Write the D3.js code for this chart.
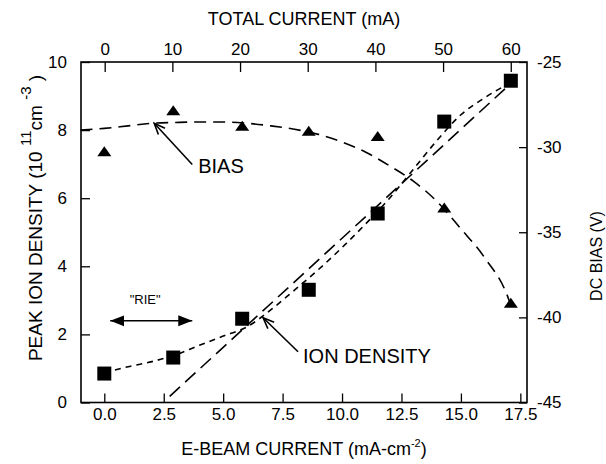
<!DOCTYPE html>
<html>
<head>
<meta charset="utf-8">
<script src="https://cdn.jsdelivr.net/npm/d3@7"></script>
<style>
  body { margin: 0; background: #fff; }
  text { font-family: "Liberation Sans", Arial, sans-serif; fill: #000; }
</style>
</head>
<body>
<div id="chart"></div>
<script>
/**
 * CONSTANTS AND GLOBALS
 * */
const width = 606,
  height = 464,
  margin = { top: 62, right: 79, bottom: 62, left: 81 };

/**
 * DATA
 * */
// e-beam current (mA-cm-2) for each measurement, total current 0..60 mA
const ebeam = [0, 2.9, 5.8, 8.6, 11.5, 14.3, 17.1];
const ionDensity = [0.85, 1.32, 2.46, 3.31, 5.55, 8.25, 9.45];
const dcBias = [-30.3, -27.9, -28.8, -29.1, -29.4, -33.6, -39.2];

// dashed fit through the bias points
const biasFitX = [-1, 0, 1, 2, 3, 4, 5, 6, 7, 8, 9, 10, 11, 12, 13, 14, 15, 16, 17, 17.1];
const biasFitY = [-29.0, -28.9, -28.75, -28.6, -28.55, -28.52, -28.52, -28.6, -28.75, -28.95,
  -29.25, -29.7, -30.3, -31.1, -32.0, -33.2, -34.8, -36.5, -38.9, -39.3];

// short-dashed fit through the ion density points
const ionFitX = [0, 1, 2, 3, 4, 5, 6, 7, 8, 9, 10, 11, 12, 13, 14, 15, 16, 17.1];
const ionFitY = [0.87, 1.05, 1.2, 1.4, 1.68, 1.95, 2.22, 2.72, 3.3, 3.9, 4.55, 5.25, 6.0,
  6.85, 7.7, 8.45, 8.95, 9.4];

// long-dashed straight line
const ionLineX = [2.75, 17.1];
const ionLineY = [0.18, 9.37];

// ticks
const bottomTicks = [0, 2.5, 5, 7.5, 10, 12.5, 15, 17.5];
const topTicks = [0, 10, 20, 30, 40, 50, 60];
const leftTicks = [0, 2, 4, 6, 8, 10];
const rightTicks = [-45, -40, -35, -30, -25];

/**
 * SCALES
 * */
const x = d3.scaleLinear().domain([-0.98, 17.78]).range([margin.left, width - margin.right]);
const xTop = d3.scaleLinear().domain([-3.5, 62.4]).range([margin.left, width - margin.right]);
const y = d3.scaleLinear().domain([0, 10]).range([height - margin.bottom + 0.5, margin.top]);
const yRight = d3.scaleLinear().domain([-45, -25]).range([height - margin.bottom + 0.5, margin.top]);

const svg = d3.select("#chart")
  .append("svg")
  .attr("width", width)
  .attr("height", height);

// markers for the annotation arrows
const defs = svg.append("defs");
defs.append("marker")
  .attr("id", "openhead")
  .attr("viewBox", "-12 -6 14 12")
  .attr("markerWidth", 14)
  .attr("markerHeight", 12)
  .attr("markerUnits", "userSpaceOnUse")
  .attr("orient", "auto")
  .append("path")
  .attr("d", "M-11,-4.5L0,0L-11,4.5")
  .attr("fill", "none")
  .attr("stroke", "#000")
  .attr("stroke-width", 1.6);
defs.append("marker")
  .attr("id", "fillhead")
  .attr("viewBox", "-14 -6 15 12")
  .attr("markerWidth", 15)
  .attr("markerHeight", 12)
  .attr("markerUnits", "userSpaceOnUse")
  .attr("orient", "auto-start-reverse")
  .append("path")
  .attr("d", "M-14,-5.5L0,0L-14,5.5Z")
  .attr("fill", "#000");

/**
 * AXES (ticks point inwards)
 * */
const bottomAxis = d3.axisBottom(x).tickValues(bottomTicks)
  .tickSizeInner(-9).tickSizeOuter(0).tickPadding(5.5)
  .tickFormat(d3.format(".1f"));
const topAxis = d3.axisTop(xTop).tickValues(topTicks)
  .tickSizeInner(-10).tickSizeOuter(0).tickPadding(7)
  .tickFormat(d => String(d));
const leftAxis = d3.axisLeft(y).tickValues(leftTicks)
  .tickSizeInner(-9).tickSizeOuter(0).tickPadding(14)
  .tickFormat(d => String(d));
const rightAxis = d3.axisRight(yRight).tickValues(rightTicks)
  .tickSizeInner(-8).tickSizeOuter(0).tickPadding(10)
  .tickFormat(d => String(d));

function styleAxis(g) {
  g.select(".domain").remove();
  g.selectAll("line").attr("stroke", "#000").attr("stroke-width", 1.3);
  g.selectAll("text").attr("font-size", 17).attr("font-family", null);
}

svg.append("g").attr("transform", `translate(0,${y(0)})`).call(bottomAxis).call(styleAxis);
svg.append("g").attr("transform", `translate(0,${margin.top})`).call(topAxis).call(styleAxis);
svg.append("g").attr("transform", `translate(${margin.left},0)`).call(leftAxis).call(styleAxis);
svg.append("g").attr("transform", `translate(${width - margin.right},0)`).call(rightAxis).call(styleAxis);

// frame
svg.append("rect")
  .attr("x", margin.left)
  .attr("y", margin.top)
  .attr("width", width - margin.left - margin.right)
  .attr("height", y(0) - margin.top)
  .attr("fill", "none")
  .attr("stroke", "#000")
  .attr("stroke-width", 1.6);

/**
 * CURVES
 * */
const biasLine = d3.line().x(d => x(d[0])).y(d => yRight(d[1])).curve(d3.curveMonotoneX);
const ionLine = d3.line().x(d => x(d[0])).y(d => y(d[1])).curve(d3.curveMonotoneX);

svg.append("path")
  .datum(d3.zip(biasFitX, biasFitY))
  .attr("d", biasLine)
  .attr("fill", "none")
  .attr("stroke", "#000")
  .attr("stroke-width", 1.6)
  .attr("stroke-dasharray", "12,7");

svg.append("path")
  .datum(d3.zip(ionFitX, ionFitY))
  .attr("d", ionLine)
  .attr("fill", "none")
  .attr("stroke", "#000")
  .attr("stroke-width", 1.6)
  .attr("stroke-dasharray", "6,5");

svg.append("path")
  .datum(d3.zip(ionLineX, ionLineY))
  .attr("d", ionLine)
  .attr("fill", "none")
  .attr("stroke", "#000")
  .attr("stroke-width", 1.6)
  .attr("stroke-dasharray", "14,7");

/**
 * POINTS
 * */
svg.append("g")
  .selectAll("rect")
  .data(d3.zip(ebeam, ionDensity))
  .join("rect")
  .attr("x", d => x(d[0]) - 7)
  .attr("y", d => y(d[1]) - 7)
  .attr("width", 14)
  .attr("height", 14)
  .attr("fill", "#000");

svg.append("g")
  .selectAll("path")
  .data(d3.zip(ebeam, dcBias))
  .join("path")
  .attr("transform", d => `translate(${x(d[0])},${yRight(d[1])})`)
  .attr("d", "M0,-6L7,4L-7,4Z")
  .attr("fill", "#000");

/**
 * ANNOTATIONS
 * */
svg.append("line")
  .attr("x1", x(3.7)).attr("y1", y(6.99))
  .attr("x2", x(2.1)).attr("y2", y(8.2))
  .attr("stroke", "#000").attr("stroke-width", 1.6)
  .attr("marker-end", "url(#openhead)");
svg.append("text")
  .attr("x", x(3.95)).attr("y", y(6.75))
  .attr("font-size", 20)
  .text("BIAS");

svg.append("line")
  .attr("x1", x(8.15)).attr("y1", y(1.49))
  .attr("x2", x(6.68)).attr("y2", y(2.49))
  .attr("stroke", "#000").attr("stroke-width", 1.6)
  .attr("marker-end", "url(#openhead)");
svg.append("text")
  .attr("x", x(8.36)).attr("y", y(1.16))
  .attr("font-size", 20)
  .text("ION DENSITY");

svg.append("line")
  .attr("x1", x(0.25)).attr("y1", y(2.4))
  .attr("x2", x(3.7)).attr("y2", y(2.4))
  .attr("stroke", "#000").attr("stroke-width", 1.6)
  .attr("marker-start", "url(#fillhead)")
  .attr("marker-end", "url(#fillhead)");
svg.append("text")
  .attr("x", x(1.72)).attr("y", y(2.9))
  .attr("text-anchor", "middle")
  .attr("font-size", 13)
  .text("\"RIE\"");

/**
 * AXIS TITLES
 * */
svg.append("text")
  .attr("x", 304).attr("y", 25)
  .attr("text-anchor", "middle")
  .attr("font-size", 18)
  .text("TOTAL CURRENT (mA)");

const bottomTitle = svg.append("text")
  .attr("x", 304).attr("y", 455)
  .attr("text-anchor", "middle")
  .attr("font-size", 18);
bottomTitle.append("tspan").text("E-BEAM CURRENT (mA-cm");
bottomTitle.append("tspan").attr("font-size", 11).attr("dy", -8).text("-2");
bottomTitle.append("tspan").attr("dy", 8).text(")");

const leftTitle = svg.append("text")
  .attr("transform", "translate(42,218) rotate(-90)")
  .attr("text-anchor", "middle")
  .attr("font-size", 19);
leftTitle.append("tspan").text("PEAK ION DENSITY (10 ");
leftTitle.append("tspan").attr("font-size", 15).attr("dy", -11).text("11");
leftTitle.append("tspan").attr("dy", 11).text("cm ");
leftTitle.append("tspan").attr("font-size", 15).attr("dy", -11).text("-3");
leftTitle.append("tspan").attr("dy", 11).text("  )");

svg.append("text")
  .attr("transform", "translate(602,256) rotate(-90)")
  .attr("text-anchor", "middle")
  .attr("font-size", 16)
  .text("DC BIAS (V)");
</script>
</body>
</html>
